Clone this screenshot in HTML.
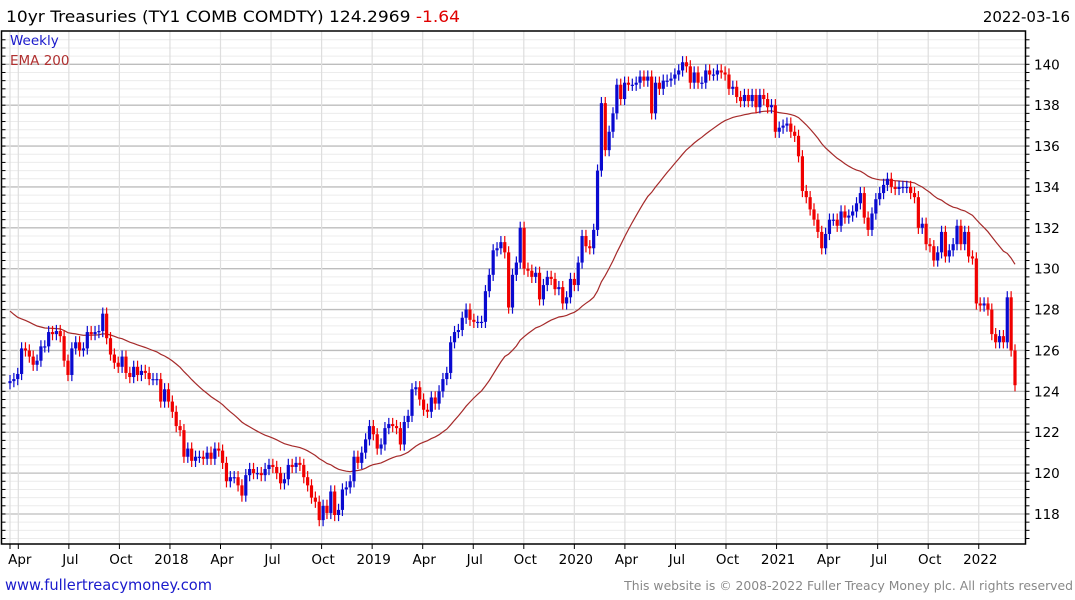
<!DOCTYPE html>
<html><head><meta charset="utf-8">
<style>
body{margin:0;background:#fff;width:1075px;height:600px;overflow:hidden;font-family:"Liberation Sans","DejaVu Sans",sans-serif;}
svg{display:block}
</style></head>
<body>
<svg id="chart" width="1075" height="600" viewBox="0 0 1075 600" xmlns="http://www.w3.org/2000/svg">
<text x="6" y="22" font-size="16" fill="#000" font-family="DejaVu Sans, sans-serif" textLength="454" lengthAdjust="spacingAndGlyphs">10yr Treasuries (TY1 COMB COMDTY) 124.2969 <tspan fill="#e00000">-1.64</tspan></text>
<text x="1070" y="22" font-size="15" text-anchor="end" fill="#000" font-family="DejaVu Sans, sans-serif">2022-03-16</text>
<g id="grid"></g>
<g id="ema"></g>
<g id="candles"></g>
<g id="axes"></g>
<text x="10" y="45" font-size="13.5" fill="#1a1acc" font-family="DejaVu Sans, sans-serif">Weekly</text>
<text x="10" y="65" font-size="13.5" fill="#b03030" font-family="DejaVu Sans, sans-serif">EMA 200</text>
<text x="5" y="590" font-size="14.8" fill="#1a1acc" font-family="DejaVu Sans, sans-serif" textLength="207" lengthAdjust="spacingAndGlyphs">www.fullertreacymoney.com</text>
<text x="1073" y="590" font-size="12.4" text-anchor="end" fill="#888" font-family="DejaVu Sans, sans-serif">This website is © 2008-2022 Fuller Treacy Money plc. All rights reserved</text>
</svg>
<script>
const closes = [
124.5,124.6,124.85,126.1,126.0,125.7,125.3,125.5,126.2,126.2,126.9,126.8,126.95,126.7,125.5,124.8,126.1,126.4,126.0,126.1,
126.9,126.8,126.9,126.95,127.8,126.6,125.8,125.4,125.2,125.7,124.9,124.7,125.2,124.8,125.0,124.9,124.6,124.6,124.6,123.5,
124.1,123.5,123.0,122.3,122.1,120.8,121.2,120.6,120.8,120.8,120.7,121.0,120.7,121.2,121.1,120.5,119.6,119.8,119.8,119.4,
118.9,119.9,120.2,120.0,120.0,119.9,120.2,120.4,120.3,120.0,119.5,119.7,120.4,120.3,120.5,120.4,119.8,119.4,118.8,118.6,
117.7,118.4,118.05,119.1,117.95,118.2,119.2,119.3,119.6,120.8,120.5,121.0,121.65,122.3,121.9,121.2,
121.4,122.2,122.4,122.3,122.2,121.4,122.5,122.8,124.1,124.2,123.6,123.1,123.0,123.7,123.4,124.0,124.6,124.9,126.4,126.9,
127.0,127.6,128.0,127.5,127.4,127.4,127.4,128.9,129.7,130.9,131.0,131.3,130.8,128.1,129.7,130.3,132.0,130.0,129.9,129.6,
129.8,128.5,129.2,129.6,129.5,129.0,129.1,128.3,128.6,129.5,129.2,130.3,131.6,131.1,131.0,131.9,134.8,138.1,135.8,136.7,
137.6,139.0,138.3,139.1,139.0,139.0,139.1,139.4,139.2,139.4,137.6,139.1,138.8,139.2,139.2,139.3,139.5,139.7,140.1,139.9,
139.1,139.6,139.1,139.1,139.7,139.5,139.5,139.7,139.6,139.5,138.8,138.9,138.4,138.2,138.5,138.2,138.5,137.9,138.5,138.3,
137.9,138.0,136.7,136.9,137.0,137.1,136.7,136.5,135.5,133.8,133.5,132.9,132.4,131.8,131.0,131.7,132.4,132.4,132.1,132.8,
132.5,132.6,132.8,133.2,133.7,132.5,131.9,132.7,133.4,133.7,134.1,134.4,134.0,133.9,134.0,134.0,134.0,133.7,133.5,132.0,
132.2,131.2,131.1,130.4,130.8,131.8,130.6,130.9,131.2,132.1,131.2,131.8,130.6,130.5,128.3,128.2,128.3,128.0,126.8,126.4,
126.7,126.4,128.6,126.0,124.3
];
const firstOpen = 124.4;
const emaSeed = 128.1;
const yTicks = [118,120,122,124,126,128,130,132,134,136,138,140];
const xTickLabels = ["Apr","Jul","Oct","2018","Apr","Jul","Oct","2019","Apr","Jul","Oct","2020","Apr","Jul","Oct","2021","Apr","Jul","Oct","2022"];

const NS="http://www.w3.org/2000/svg";
const L=1.5,R=1025.5,T=31,B=544;
const yScale=v=>64.3+(140-v)*20.44;
const N=closes.length;
const xScale=i=>10+i*(1005/(N-1));
const qx=k=>18.3+k*50.55;
function mk(tag,attrs,parent){const e=document.createElementNS(NS,tag);for(const k in attrs)e.setAttribute(k,attrs[k]);parent.appendChild(e);return e;}
const grid=document.getElementById('grid'),axes=document.getElementById('axes'),cg=document.getElementById('candles'),eg=document.getElementById('ema');

for(let v=116.4;v<=143;v+=0.4){const y=yScale(v);if(y<T+1||y>B-1)continue;
 const major=Math.abs(v/2-Math.round(v/2))<0.01;
 const ln=mk('line',{x1:L,x2:R,y1:y,y2:y,stroke:major?'#bdbdbd':'#ececec','stroke-width':major?1.3:1},grid);
 
 
 const tk=mk('line',{x1:R,x2:R+4,y1:y,y2:y,stroke:'#000','stroke-width':1},axes);
 
 
 const tl=mk('line',{x1:L,x2:L+4,y1:y,y2:y,stroke:'#000','stroke-width':1},axes);
 
 
}
const vg0=mk('line',{x1:10,x2:10,y1:T,y2:B,stroke:'#dedede','stroke-width':1.2},grid);


xTickLabels.forEach((lab,k)=>{const x=qx(k);
 const g=mk('line',{x1:x,x2:x,y1:T,y2:B,stroke:'#dedede','stroke-width':1.2},grid);
 
 
 const t=mk('line',{x1:x,x2:x,y1:B,y2:B+5,stroke:'#000','stroke-width':1},axes);
 
 
 const tx=mk('text',{x:x+1.5,y:564,'font-size':13.5,'text-anchor':'middle',fill:'#000','font-family':'DejaVu Sans, sans-serif'},axes);
 tx.textContent=lab;
 
 
});
const t0=mk('line',{x1:10,x2:10,y1:B,y2:B+5,stroke:'#000','stroke-width':1},axes);


yTicks.forEach(v=>{const y=yScale(v);
 const tx=mk('text',{x:1034,y:y+5,'font-size':13.5,fill:'#000','font-family':'DejaVu Sans, sans-serif'},axes);
 tx.textContent=v;
 
 
});
const fr=mk('path',{d:`M${L},${T}H${R}V${B}H${L}Z`,fill:'none',stroke:'#000','stroke-width':1.5},axes);



let e=emaSeed;const a=2/41;let pts=[];
closes.forEach((c,i)=>{e=e+a*(c-e);pts.push(xScale(i).toFixed(1)+','+yScale(e).toFixed(1));});
const pl=mk('polyline',{points:pts.join(' '),fill:'none',stroke:'#a52a2a','stroke-width':1.2},eg);



closes.forEach((c,i)=>{const o=i===0?firstOpen:closes[i-1];const up=c>=o;const col=up?'#0a0ad0':'#f00000';
 const hi=Math.max(o,c)+0.3,lo=Math.min(o,c)-0.3;const x=xScale(i);
 const w=mk('line',{x1:x,x2:x,y1:yScale(hi),y2:yScale(lo),stroke:col,'stroke-width':1.2},cg);
 
 
 const yt=yScale(Math.max(o,c)),yb=yScale(Math.min(o,c));
 const r=mk('rect',{x:x-1.6,y:yt,width:3.2,height:Math.max(1.2,yb-yt),fill:col},cg);
 
 
});
</script>
</body></html>
